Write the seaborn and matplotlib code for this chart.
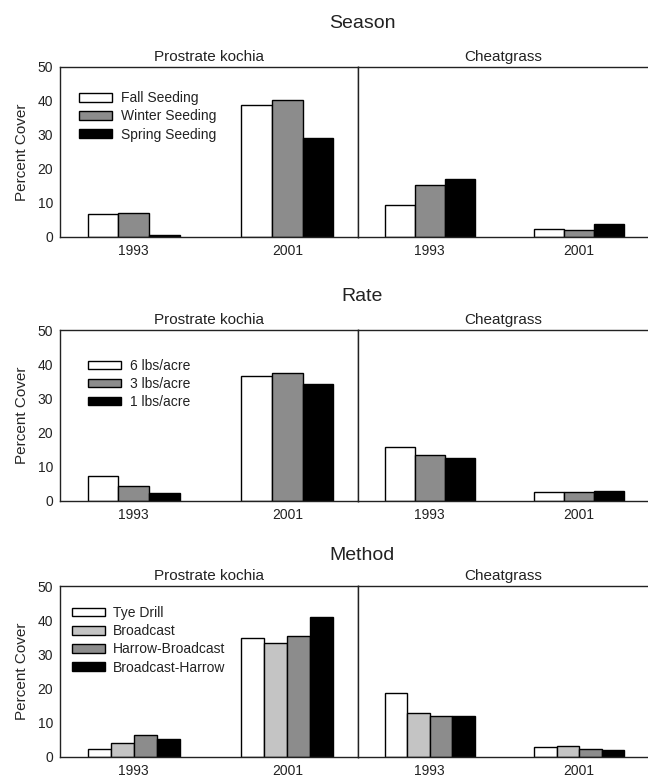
import pandas as pd
import matplotlib
matplotlib.use("Agg")
import matplotlib.pyplot as plt
import seaborn as sns

# データ
years = ["1993", "2001"]
species = ["Prostrate kochia", "Cheatgrass"]

season_groups = ["Fall Seeding", "Winter Seeding", "Spring Seeding"]
season_kochia = [[6.8, 7.0, 0.5], [38.8, 40.4, 29.1]]
season_cheat = [[9.3, 15.3, 17.2], [2.4, 2.0, 3.9]]

rate_groups = ["6 lbs/acre", "3 lbs/acre", "1 lbs/acre"]
rate_kochia = [[7.4, 4.3, 2.2], [36.5, 37.5, 34.1]]
rate_cheat = [[15.9, 13.4, 12.6], [2.6, 2.7, 2.9]]

method_groups = ["Tye Drill", "Broadcast", "Harrow-Broadcast", "Broadcast-Harrow"]
method_kochia = [[2.3, 4.0, 6.4, 5.3], [34.7, 33.3, 35.3, 40.8]]
method_cheat = [[18.6, 12.8, 12.1, 12.0], [2.9, 3.3, 2.4, 2.0]]

colors3 = ["#ffffff", "#8c8c8c", "#000000"]
colors4 = ["#ffffff", "#c4c4c4", "#8c8c8c", "#000000"]

rows = [
    ("Season", season_groups, season_kochia, season_cheat, colors3),
    ("Rate", rate_groups, rate_kochia, rate_cheat, colors3),
    ("Method", method_groups, method_kochia, method_cheat, colors4),
]


def to_frame(groups, values):
    recs = []
    for yi, yr in enumerate(years):
        for gi, g in enumerate(groups):
            recs.append({"year": yr, "group": g, "cover": values[yi][gi]})
    return pd.DataFrame(recs)


sns.set_style("white")
plt.rcParams["font.family"] = ["Liberation Sans", "DejaVu Sans"]
plt.rcParams["text.color"] = "#222222"
plt.rcParams["axes.edgecolor"] = "#222222"

W, H = 648, 781
fig = plt.figure(figsize=(W / 100, H / 100), dpi=100)

# ピクセル単位の配置
row_px = [(67, 237, 23, 48), (330, 501, 297, 315), (586, 757, 555, 572)]
leg_pos = [(0.045, 0.89), (0.075, 0.865), (0.02, 0.915)]
x_left, x_div, x_right = 60, 358, 648

for r, (title, groups, kochia, cheat, cols) in enumerate(rows):
    top, bot, ty, sty = row_px[r]
    b = 1 - bot / H
    h = (bot - top) / H
    ax1 = fig.add_axes([x_left / W, b, (x_div - x_left) / W, h])
    ax2 = fig.add_axes([x_div / W, b, (x_right - x_div) / W, h])

    for ax, vals, name in [(ax1, kochia, species[0]), (ax2, cheat, species[1])]:
        df = to_frame(groups, vals)
        sns.barplot(data=df, x="year", y="cover", hue="group", palette=cols,
                    edgecolor="black", linewidth=1.0, width=0.6, ax=ax,
                    legend=(ax is ax1))
        ax.set_ylim(0, 50)
        ax.set_xlim(-0.48, 1.46)
        ax.set_xlabel("")
        ax.set_ylabel("")
        ax.set_title(name, fontsize=11, pad=4, color="#222222")
        ax.tick_params(axis="both", direction="in", length=3, width=0.8,
                       labelsize=10, colors="#222222", pad=5)
        for s in ax.spines.values():
            s.set_linewidth(1.0)

    ax1.set_yticks([0, 10, 20, 30, 40, 50])
    ax1.set_ylabel("Percent Cover", fontsize=11, labelpad=6)
    ax2.set_yticks([0, 10, 20, 30, 40, 50])
    ax2.tick_params(axis="y", labelleft=False)
    ax2.spines["right"].set_visible(False)

    sns.move_legend(ax1, "upper left", bbox_to_anchor=leg_pos[r],
                    frameon=False, title=None, fontsize=10,
                    handlelength=2.4, handleheight=0.55,
                    handletextpad=0.6, labelspacing=0.3, borderaxespad=0)

    fig.text(362 / W, 1 - ty / H, title, fontsize=14, ha="center", va="center")

fig.savefig("out.png", dpi=100)
